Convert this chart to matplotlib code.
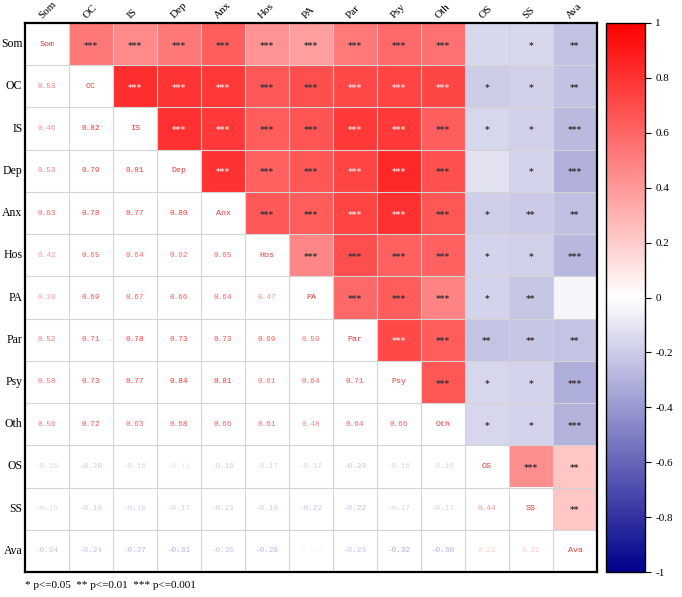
import numpy as np
import matplotlib
matplotlib.use("Agg")
import matplotlib.pyplot as plt
from matplotlib.colors import LinearSegmentedColormap, Normalize

labels = ['Som', 'OC', 'IS', 'Dep', 'Anx', 'Hos', 'PA', 'Par', 'Psy', 'Oth', 'OS', 'SS', 'Ava']

# lower-triangle correlations (row i, columns 0..i-1)
r_OC = [0.53]
r_IS = [0.46, 0.82]
r_Dep = [0.53, 0.79, 0.81]
r_Anx = [0.63, 0.78, 0.77, 0.80]
r_Hos = [0.42, 0.65, 0.64, 0.62, 0.65]
r_PA = [0.38, 0.69, 0.67, 0.66, 0.64, 0.47]
r_Par = [0.52, 0.71, 0.78, 0.73, 0.73, 0.69, 0.59]
r_Psy = [0.58, 0.73, 0.77, 0.84, 0.81, 0.61, 0.64, 0.71]
r_Oth = [0.56, 0.72, 0.63, 0.68, 0.66, 0.61, 0.48, 0.64, 0.66]
r_OS = [-0.15, -0.20, -0.16, -0.11, -0.19, -0.17, -0.17, -0.23, -0.16, -0.16]
r_SS = [-0.15, -0.18, -0.18, -0.17, -0.21, -0.18, -0.22, -0.22, -0.17, -0.17, 0.44]
r_Ava = [-0.24, -0.24, -0.27, -0.31, -0.25, -0.28, -0.033, -0.23, -0.32, -0.30, 0.22, 0.22]
lower_rows = [[], r_OC, r_IS, r_Dep, r_Anx, r_Hos, r_PA, r_Par, r_Psy, r_Oth, r_OS, r_SS, r_Ava]

# significance stars for the upper triangle (row i, columns i+1..)
s_Som = ['***'] * 9 + ['', '*', '**']
s_OC = ['***'] * 8 + ['*', '*', '**']
s_IS = ['***'] * 7 + ['*', '*', '***']
s_Dep = ['***'] * 6 + ['', '*', '***']
s_Anx = ['***'] * 5 + ['*', '**', '**']
s_Hos = ['***'] * 4 + ['*', '*', '***']
s_PA = ['***'] * 3 + ['*', '**', '']
s_Par = ['***'] * 2 + ['**', '**', '**']
s_Psy = ['***', '*', '*', '***']
s_Oth = ['*', '*', '***']
s_OS = ['***', '**']
s_SS = ['**']
s_Ava = []
star_rows = [s_Som, s_OC, s_IS, s_Dep, s_Anx, s_Hos, s_PA, s_Par, s_Psy, s_Oth, s_OS, s_SS, s_Ava]

n = len(labels)
M = np.eye(n)
for i, row in enumerate(lower_rows):
    for j, v in enumerate(row):
        M[i, j] = v
        M[j, i] = v

cmap = LinearSegmentedColormap.from_list('bwr2', ['#00008B', '#FFFFFF', '#FF0000'])
cmap.set_bad('white')
norm = Normalize(-1, 1)

W, H = 682, 597
fig = plt.figure(figsize=(W / 100, H / 100), dpi=100)
ax = fig.add_axes([25 / W, 1 - 572 / H, 572 / W, 549 / H])

upper = np.full((n, n), np.nan)
for i in range(n):
    for j in range(i + 1, n):
        upper[i, j] = M[i, j]
ax.imshow(upper, cmap=cmap, norm=norm, aspect='auto', interpolation='nearest')

for k in range(1, n):
    ax.axhline(k - 0.5, color='#d4d4d4', lw=0.8)
    ax.axvline(k - 0.5, color='#d4d4d4', lw=0.8)

mono = 'Liberation Mono'
serif = 'Liberation Serif'
for i in range(n):
    for j in range(n):
        if i == j:
            ax.text(j, i, labels[i], ha='center', va='center', fontsize=6,
                    family=mono, color='#e23a3a')
        elif j < i:
            v = M[i, j]
            txt = f'{v:.3f}' if abs(v) < 0.1 else f'{v:.2f}'
            ax.text(j, i, txt, ha='center', va='center', fontsize=5.5,
                    family=mono, color=cmap(norm(v)))
        else:
            s = star_rows[i][j - i - 1]
            if s:
                c = '#fbd6d6' if M[i, j] >= 0.7 else '#3c2f33'
                ax.text(j, i + 0.05, s, ha='center', va='center', fontsize=6.5,
                        color=c, fontweight='bold')

ax.set_xticks([])
ax.set_yticks([])
ax.set_xlim(-0.5, n - 0.5)
ax.set_ylim(n - 0.5, -0.5)
for sp in ax.spines.values():
    sp.set_linewidth(1.6)
    sp.set_color('black')

for k, lab in enumerate(labels):
    ax.text(-0.56, k, lab, ha='right', va='center', fontsize=8.5,
            family=serif)
    ax.text(k - 0.08, -0.56, lab, ha='left', va='bottom', fontsize=8,
            family=serif, rotation=45, rotation_mode='anchor')

cax = fig.add_axes([606 / W, 1 - 572 / H, 39 / W, 549 / H])
sm = plt.cm.ScalarMappable(norm=norm, cmap=cmap)
cb = fig.colorbar(sm, cax=cax)
ticks = np.round(np.arange(-1, 1.01, 0.2), 1)
cb.set_ticks(ticks)
cb.set_ticklabels(['1' if t == 1 else '-1' if t == -1 else '0' if t == 0 else f'{t:g}' for t in ticks])
cb.ax.tick_params(length=4, width=0.8, labelsize=8)
for t in cb.ax.get_yticklabels():
    t.set_family(serif)
cb.outline.set_linewidth(1)

fig.text(25 / W, 1 - 585 / H, '* p<=0.05  ** p<=0.01  *** p<=0.001',
         fontsize=8, family=serif, va='center', ha='left')

fig.savefig('out.png', dpi=100)
